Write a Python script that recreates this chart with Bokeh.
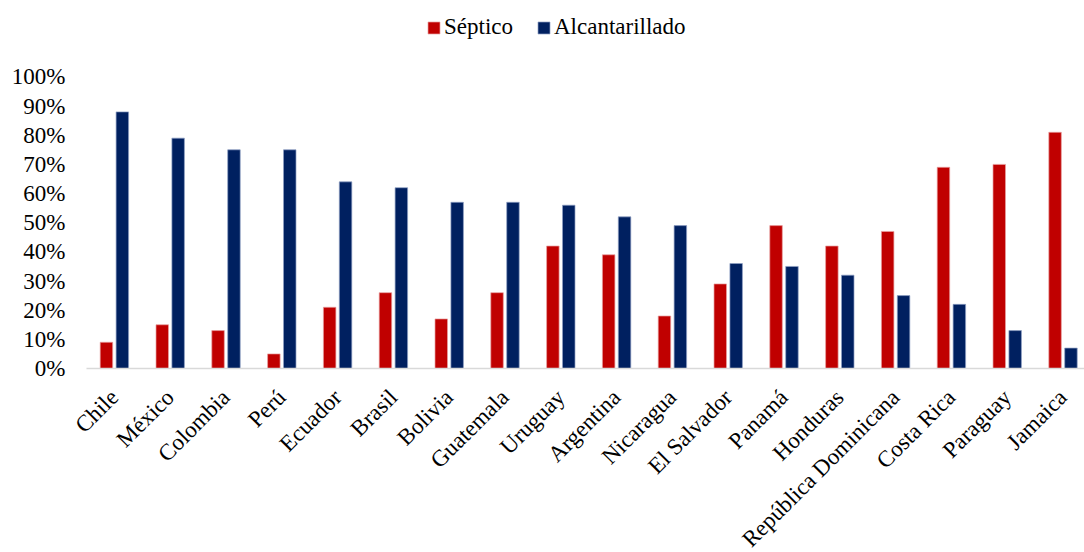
import math
from bokeh.plotting import figure
from bokeh.models import (ColumnDataSource, Range1d, FixedTicker,
                          NumeralTickFormatter, Legend, LegendItem)
from bokeh.core.properties import value
from bokeh.transform import dodge
from bokeh.embed import file_html
from bokeh.resources import INLINE

# Share of households by sanitation type, per country
countries = ["Chile", "México", "Colombia", "Perú", "Ecuador", "Brasil", "Bolivia",
             "Guatemala", "Uruguay", "Argentina", "Nicaragua", "El Salvador",
             "Panamá", "Honduras", "República Dominicana", "Costa Rica",
             "Paraguay", "Jamaica"]
septico = [0.09, 0.15, 0.13, 0.05, 0.21, 0.26, 0.17, 0.26, 0.42, 0.39, 0.18,
           0.29, 0.49, 0.42, 0.47, 0.69, 0.70, 0.81]
alcantarillado = [0.88, 0.79, 0.75, 0.75, 0.64, 0.62, 0.57, 0.57, 0.56, 0.52,
                  0.49, 0.36, 0.35, 0.32, 0.25, 0.22, 0.13, 0.07]
y_ticks = [i / 10 for i in range(11)]

RED = "#C00000"
BLUE = "#002060"
FONT = "Liberation Serif"

# one slot per country along x
pos = list(range(len(countries)))
src = ColumnDataSource(dict(pos=pos, country=countries, base=[0] * len(pos),
                            septico=septico, alcantarillado=alcantarillado))

p = figure(width=1084, height=552, output_backend="svg", toolbar_location=None,
           x_range=Range1d(-0.5, 17.385), y_range=Range1d(0, 1.2277),
           min_border_left=86, min_border_right=0, min_border_top=10,
           min_border_bottom=184)
p.outline_line_color = None
p.background_fill_color = "white"
p.border_fill_color = "white"

r_sep = p.vbar(x=dodge("pos", -0.1425), top="septico", width=0.224, source=src,
               fill_color=RED, line_color="#e8a0a0", line_width=0.7)
r_alc = p.vbar(x=dodge("pos", 0.1425), top="alcantarillado", width=0.224,
               source=src, fill_color=BLUE, line_color="#8fa0c4", line_width=0.7)

p.xgrid.grid_line_color = None
p.ygrid.grid_line_color = None

# x axis: only the baseline; country names are drawn as rotated text below it
p.xaxis.ticker = FixedTicker(ticks=[])
p.xaxis.axis_line_color = "#d9d9d9"
p.xaxis.axis_line_width = 1.7
p.xaxis.major_tick_line_color = None
p.xaxis.minor_tick_line_color = None
p.xaxis.major_tick_out = 0
p.xaxis.major_tick_in = 0
p.xaxis.major_label_text_font_size = "0px"

names = p.text(x="pos", y="base", text="country", source=src,
               angle=math.pi / 4, text_align="right", text_baseline="middle",
               y_offset=25, text_font=value(FONT), text_font_size="23px",
               text_color="black", level="overlay")

p.yaxis.ticker = FixedTicker(ticks=y_ticks)
p.yaxis.formatter = NumeralTickFormatter(format="0%")
p.yaxis.axis_line_color = None
p.yaxis.major_tick_line_color = None
p.yaxis.minor_tick_line_color = None
p.yaxis.major_tick_out = 0
p.yaxis.major_tick_in = 0
p.yaxis.major_label_text_font = FONT
p.yaxis.major_label_text_font_size = "23px"
p.yaxis.major_label_text_color = "black"
p.yaxis.major_label_standoff = 21

legend = Legend(items=[LegendItem(label="Séptico", renderers=[r_sep]),
                       LegendItem(label="Alcantarillado", renderers=[r_alc])],
                orientation="horizontal", location=(340, 328),
                border_line_color=None, background_fill_alpha=0,
                label_text_font=FONT, label_text_font_size="23px",
                label_text_color="black",
                glyph_width=15, glyph_height=15, spacing=23,
                label_standoff=3, margin=0, padding=0)
p.add_layout(legend)

open("out.html", "w").write(file_html(p, INLINE))
